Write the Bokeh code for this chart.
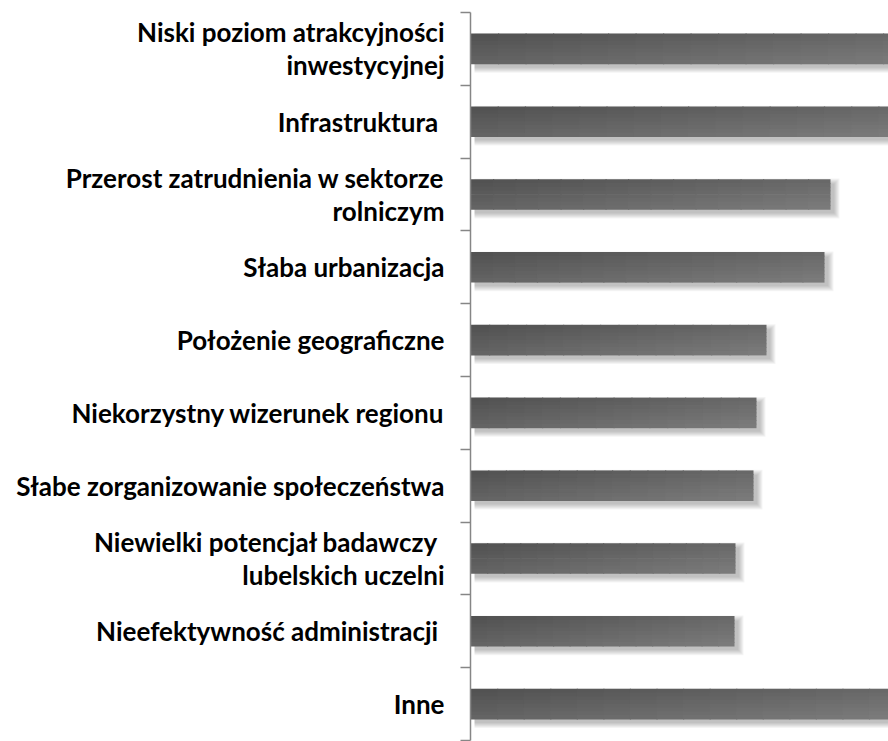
from bokeh.plotting import figure
from bokeh.models import Range1d, LinearAxis, FixedTicker, ColumnDataSource
from bokeh.embed import file_html
from bokeh.resources import INLINE

# ---- data (top to bottom) ----
categories = [
    "Niski poziom atrakcyjności\ninwestycyjnej",
    "Infrastruktura ",
    "Przerost zatrudnienia w sektorze\nrolniczym",
    "Słaba urbanizacja",
    "Położenie geograficzne",
    "Niekorzystny wizerunek regionu",
    "Słabe zorganizowanie społeczeństwa",
    "Niewielki  potencjał badawczy\nlubelskich uczelni",
    "Nieefektywność administracji ",
    "Inne",
]
values = [44.0, 43.5, 36.0, 35.4, 29.6, 28.6, 28.3, 26.5, 26.4, 42.5]

N = len(categories)
centers = [i + 0.5 for i in range(N)]
bounds = list(range(N + 1))

W, H = 888, 741
LEFT_BORDER = 470
TOP_BORDER = 12
BOTTOM_BORDER = 1
frame_w = W - LEFT_BORDER
frame_h = H - TOP_BORDER - BOTTOM_BORDER
X_MAX = frame_w / 10.0
px_x = X_MAX / frame_w
px_y = N / frame_h
BAR_H = 0.41

p = figure(width=W, height=H, output_backend="svg", toolbar_location=None,
           y_range=Range1d(N, 0), x_range=Range1d(0, X_MAX),
           y_axis_location=None,
           min_border_left=LEFT_BORDER, min_border_right=0,
           min_border_top=TOP_BORDER, min_border_bottom=BOTTOM_BORDER)
p.outline_line_color = None
p.xaxis.visible = False
p.xgrid.visible = False
p.ygrid.visible = False

# ---- shadow (soft, offset down-right) ----
for k in range(6):
    spread = k * 1.0
    src = ColumnDataSource(dict(
        y=[c + 4 * px_y for c in centers],
        left=[4 * px_x for _ in values],
        right=[v + (4 + spread) * px_x for v in values],
    ))
    p.hbar(y="y", left="left", right="right",
           height=BAR_H + 2 * spread * px_y, source=src,
           fill_color="black", fill_alpha=0.045, line_color=None)

# ---- gradient bars (strips) ----
NX, NY = 16, 8
for j in range(NY):
    yf = (j + 0.5) / NY
    ys, lefts, rights, colors = [], [], [], []
    for c, v in zip(centers, values):
        for i in range(NX):
            xf = (i + 0.5) / NX
            g = int(round(80 + 24 * xf + 20 * yf))
            ys.append(c - BAR_H / 2 + (j + 0.5) * BAR_H / NY)
            lefts.append(v * i / NX)
            rights.append(min(v, v * (i + 1) / NX + 1.2 * px_x))
            colors.append("#%02x%02x%02x" % (g, g, g))
    src = ColumnDataSource(dict(y=ys, left=lefts, right=rights, color=colors))
    p.hbar(y="y", left="left", right="right",
           height=BAR_H / NY * 1.2, source=src,
           fill_color="color", line_color=None)

# ---- boundary tick axis (closest to the frame) ----
tick_axis = LinearAxis(ticker=FixedTicker(ticks=bounds))
tick_axis.axis_line_color = "#868686"
tick_axis.axis_line_width = 1.5
tick_axis.major_tick_line_color = "#868686"
tick_axis.major_tick_line_width = 1.5
tick_axis.major_tick_out = 10
tick_axis.major_tick_in = 0
tick_axis.minor_tick_line_color = None
tick_axis.major_label_overrides = {b: "" for b in bounds}
tick_axis.major_label_standoff = 0
p.add_layout(tick_axis, "left")

# ---- category label axis ----
cat_axis = LinearAxis(ticker=FixedTicker(ticks=centers))
cat_axis.axis_line_color = None
cat_axis.major_tick_line_color = None
cat_axis.major_tick_out = 0
cat_axis.major_tick_in = 0
cat_axis.minor_tick_line_color = None
cat_axis.major_label_overrides = dict(zip(centers, categories))
cat_axis.major_label_text_font = "Lato"
cat_axis.major_label_text_font_style = "bold"
cat_axis.major_label_text_font_size = "26px"
cat_axis.major_label_text_color = "black"
cat_axis.major_label_text_line_height = 1.03
cat_axis.major_label_standoff = 16
p.add_layout(cat_axis, "left")

open("out.html", "w").write(file_html(p, INLINE))
